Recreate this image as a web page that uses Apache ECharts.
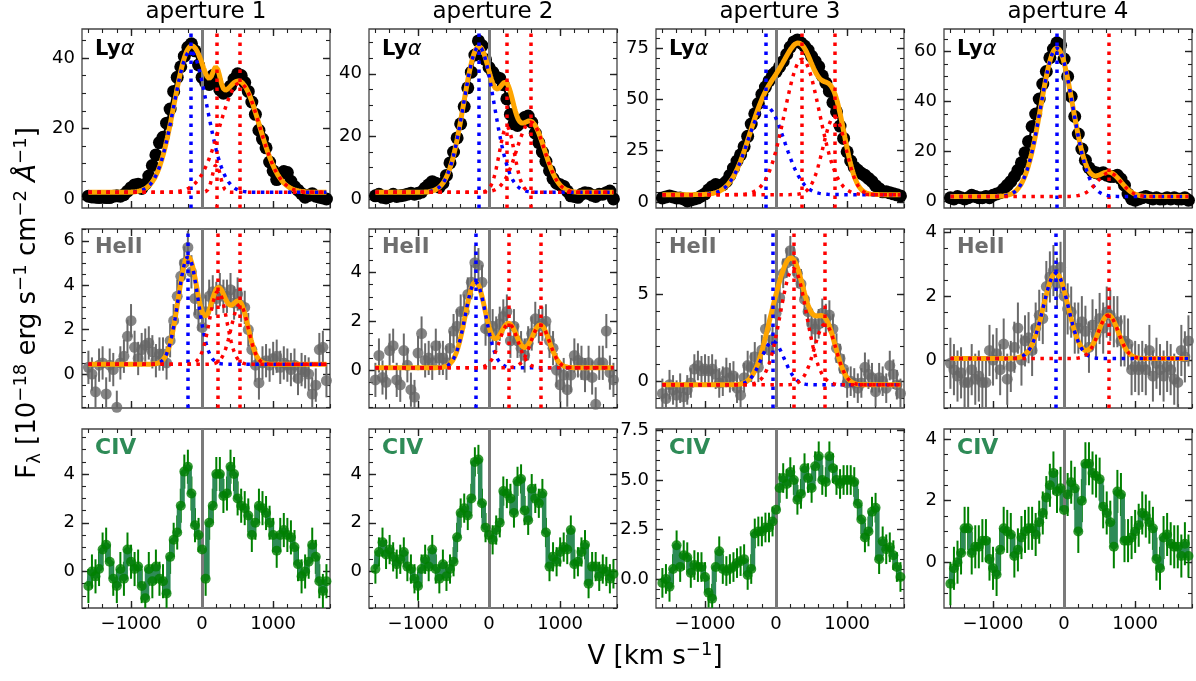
<!DOCTYPE html>
<html><head><meta charset="utf-8">
<script src="https://cdn.jsdelivr.net/npm/echarts@6/dist/echarts.min.js"></script>
<style>html,body{margin:0;padding:0;background:#fff}#c{width:1196px;height:681px}</style>
</head><body><div id="c"></div>
<script>
// ---------------- DATA ----------------
const apertures = ['aperture 1', 'aperture 2', 'aperture 3', 'aperture 4'];
const lineNames = ['Lyα', 'HeII', 'CIV'];
const xTickLabels = [-1000, 0, 1000];

const velocity = [
  -1600,-1550,-1500,-1450,-1400,-1350,-1300,-1250,-1200,-1150,
  -1100,-1050,-1000,-950,-900,-850,-800,-750,-700,-650,
  -600,-550,-500,-450,-400,-350,-300,-250,-200,-150,
  -100,-50,0,50,100,150,200,250,300,350,
  400,450,500,550,600,650,700,750,800,850,
  900,950,1000,1050,1100,1150,1200,1250,1300,1350,
  1400,1450,1500,1550,1600,1650,1700,1750];

const lyaFlux1 = [
  0.8,0.6,0.5,0.4,0.5,0.4,0.4,0.8,0.9,0.8,
  1.2,2.2,3.2,4.0,4.2,3.0,4.2,6.5,9.5,12.5,
  16.0,17.5,21.5,25.5,30.5,34.5,37.5,40.5,43.0,44.0,
  42.0,38.0,34.5,33.0,32.5,35.0,33.5,31.0,30.0,30.5,
  32.0,34.0,35.5,35.0,33.0,30.5,27.5,24.0,19.5,17.0,
  14.5,10.5,8.0,5.5,7.0,7.8,7.5,5.0,3.5,2.5,
  1.5,0.5,1.0,1.5,0.8,0.5,0.3,0.0];
const lyaFlux2 = [
  1.0,1.5,0.5,0.3,0.8,1.5,0.8,1.0,1.2,1.5,
  1.8,1.5,1.8,2.2,3.5,4.5,5.5,5.0,3.8,5.0,
  7.5,11.5,15.0,19.5,24.0,29.5,35.5,40.5,46.0,50.5,
  49.0,44.5,42.0,40.5,39.0,38.5,36.5,32.0,27.0,24.0,
  23.5,24.5,26.0,26.5,24.5,21.0,18.0,15.0,12.0,9.0,
  6.5,5.0,4.5,4.0,2.5,1.0,0.8,0.5,1.5,2.0,
  1.8,1.2,0.8,1.5,1.5,2.0,2.5,0.0];
const lyaFlux3 = [
  2.0,2.5,3.0,2.5,2.0,2.0,1.5,0.5,1.0,1.5,
  2.0,3.0,4.0,6.0,7.5,8.5,8.0,8.5,10.0,13.0,
  16.5,20.0,23.0,27.0,32.0,38.0,43.0,48.0,52.5,56.0,
  59.0,62.0,63.5,66.0,68.5,72.0,75.5,78.0,79.0,77.5,
  76.0,74.0,71.0,68.5,66.0,61.5,58.0,54.0,48.5,44.0,
  37.0,31.0,24.5,20.0,17.0,15.5,14.0,13.0,11.5,10.0,
  8.0,6.5,5.0,5.0,4.5,4.0,3.5,3.0];
const lyaFlux4 = [
  1.5,1.0,2.0,1.5,1.0,1.5,2.5,2.0,1.5,1.5,
  2.0,1.5,2.5,3.0,3.5,5.0,6.5,8.0,10.0,12.5,
  15.5,19.5,24.0,30.0,35.0,41.0,47.0,52.0,57.5,61.0,
  63.5,62.5,57.0,50.0,42.0,34.0,27.0,21.0,16.5,13.5,
  12.0,11.5,11.0,11.5,10.5,10.0,10.0,10.5,9.0,6.5,
  3.0,1.0,0.5,1.0,1.5,2.0,1.5,1.0,1.5,1.0,
  1.0,1.5,1.0,1.5,1.0,1.0,1.5,0.5];

const heiiFlux1 = [
  0.3,0.0,-0.8,0.4,0.5,-0.9,0.4,0.2,-1.5,0.5,
  0.8,1.7,2.4,1.2,0.7,1.1,1.3,1.4,1.0,0.6,
  0.9,0.9,0.5,1.5,2.4,3.5,4.4,5.0,5.7,4.6,
  3.4,2.7,2.1,2.8,3.5,3.7,3.4,3.8,3.5,3.5,
  3.8,3.2,3.6,3.1,3.0,2.0,1.1,0.4,-0.4,0.5,
  0.6,0.4,0.7,0.8,0.3,0.5,0.4,0.2,0.4,-0.2,
  0.2,0.1,0.0,-0.9,-0.5,1.1,1.2,-0.3];
const heiiFlux2 = [
  -0.4,0.6,-0.3,-0.5,0.8,1.0,-0.4,-0.6,0.8,0.2,
  -0.8,-1.1,0.7,1.5,0.4,0.5,0.3,1.0,0.5,0.5,
  0.3,0.9,1.6,1.8,2.4,2.4,3.1,3.6,4.4,4.3,
  3.6,1.7,1.6,1.8,1.5,1.9,2.2,2.4,1.2,1.8,
  1.2,0.9,0.6,1.1,1.5,2.1,1.8,1.9,2.0,1.2,
  0.9,0.0,-0.6,-0.2,-0.8,-0.2,0.6,0.4,0.3,-0.2,
  0.3,-0.3,-1.4,0.3,0.3,1.6,-0.1,-0.4];
const heiiFlux3 = [
  -0.7,-1.0,-0.2,-0.5,-0.8,-0.4,-0.9,-0.5,-0.1,0.7,
  0.9,0.6,0.7,0.6,0.7,0.4,-0.1,0.0,0.5,0.2,
  0.3,-0.4,-0.8,0.2,0.9,0.8,1.4,0.8,1.8,3.0,
  1.8,2.4,3.9,4.8,6.2,6.8,7.5,6.9,6.2,5.6,
  4.7,4.0,3.3,3.0,3.3,3.9,3.6,3.8,3.0,1.9,
  1.3,0.7,-0.1,0.0,-0.1,-0.4,-0.1,0.8,0.4,0.2,
  -0.6,0.2,0.0,-0.4,0.9,0.4,-0.2,-0.7];
const heiiFlux4 = [
  -0.1,-0.3,-0.5,-0.4,-0.7,-0.7,-0.3,-0.6,-0.5,-0.7,
  -0.7,0.3,0.0,0.2,-0.3,0.5,-0.6,-0.2,0.4,1.0,
  0.0,0.6,0.7,0.3,1.0,1.4,1.3,2.3,2.6,2.8,
  2.4,2.9,2.0,1.6,1.5,1.0,1.0,1.2,0.9,0.4,
  1.1,0.8,1.3,1.0,1.5,1.4,1.2,1.2,0.6,0.6,
  0.5,-0.3,-0.2,-0.3,-0.2,-0.3,0.3,-0.5,-0.1,-0.3,
  -0.5,-0.2,-0.3,-0.6,-0.7,0.3,0.1,0.6];

const civFlux1 = [
  -0.6,0.0,-0.2,0.1,0.9,1.1,0.4,-0.3,-0.6,0.1,
  -0.3,0.9,0.4,0.1,0.2,-0.6,-1.1,0.1,-0.4,0.2,
  -0.3,-0.4,-0.9,0.6,1.3,1.6,2.7,4.1,4.3,3.2,
  1.9,1.5,0.9,-0.3,2.0,2.7,4.0,4.0,3.1,3.2,
  4.3,4.0,3.0,2.7,2.6,2.3,1.5,2.0,2.7,2.6,
  2.4,2.0,1.5,0.85,1.5,1.7,1.5,1.4,1.0,0.3,
  -0.2,0.0,0.4,1.1,0.6,-0.4,-0.8,-0.4];
const civFlux2 = [
  0.1,0.8,1.2,0.7,0.9,0.6,0.3,0.5,0.8,0.2,
  0.1,-0.3,-0.6,0.1,0.5,0.2,0.9,0.1,-0.3,0.3,
  -0.2,0.1,0.4,1.4,2.4,2.6,2.3,3.0,4.5,4.6,
  2.8,1.8,1.5,1.3,1.7,2.0,3.3,3.2,3.0,2.4,
  3.7,3.8,2.5,2.1,3.4,3.0,2.8,3.2,1.6,0.2,
  0.6,0.4,0.8,1.0,0.9,1.7,0.3,0.4,0.8,1.1,
  -0.5,0.2,0.2,-0.2,0.1,0.0,-0.3,-0.1];
const civFlux3 = [
  -0.2,0.0,-0.4,0.5,1.7,0.6,1.2,1.1,0.3,0.7,
  0.6,0.6,0.1,-0.7,-1.0,0.6,1.4,0.5,0.4,0.5,
  0.6,0.8,0.9,1.0,0.2,0.5,2.3,2.4,2.4,2.6,
  2.6,2.9,3.5,4.6,5.1,4.8,5.4,5.0,4.0,4.3,
  5.6,5.1,4.6,5.7,6.2,5.0,4.9,6.2,5.6,5.0,
  4.8,5.0,5.0,5.0,4.9,3.8,3.0,2.1,2.4,3.4,
  3.6,1.0,1.9,1.5,1.6,1.2,0.6,0.1];
const civFlux4 = [
  -0.7,-0.2,0.0,0.3,1.1,1.1,0.3,0.5,0.5,0.7,
  0.7,0.1,-0.2,-0.4,0.4,1.1,1.0,0.9,0.2,0.4,
  0.8,1.0,1.1,1.1,0.9,1.3,1.6,2.1,2.5,2.9,
  2.3,2.4,1.7,2.2,2.6,2.4,1.0,2.0,3.2,3.2,
  2.9,2.8,2.7,1.8,1.6,1.3,0.5,2.3,2.2,0.7,
  0.7,0.8,1.0,1.2,1.6,1.5,1.3,1.1,0.1,-0.2,
  0.8,0.9,0.6,0.5,0.5,0.2,0.6,0.2];

// typical 1-sigma error bar half-length per aperture
const heiiErr = [0.75, 0.7, 0.85, 0.8];
const civErr = [0.7, 0.6, 0.75, 0.7];

// fitted Gaussian components: [peak above continuum, centre km/s, sigma km/s]
const lyaBase = [1.9, 2.1, 3.6, 2.0];
const lyaBlue = [[40, -165, 235], [46.6, -144, 215], [43, -141, 258], [59.4, -103, 225]];
const lyaRed = [
  [[8, 201, 55], [31, 529, 280]],
  [[21, 250, 105], [22.5, 584, 195]],
  [[66, 365, 245], [38, 820, 160]],
  [[9.5, 633, 170]]];
const heiiBase = [0.44, 0.1, -0.21, 0.05];
const heiiBlue = [[4.84, -197, 140], [3.52, -191, 145], [2.5, -47, 160], [2.67, -117, 175]];
const heiiRed = [
  [[3.3, 225, 120], [2.7, 529, 120]],
  [[1.8, 276, 130], [1.75, 720, 130]],
  [[6.7, 243, 185], [3.5, 689, 150]],
  [[1.36, 623, 140]]];

// ---------------- LAYOUT ----------------
const FONT = 'DejaVu Sans';
const GRID_L = [82, 369, 656, 944], GRID_T = [29, 229, 429], GW = 248, GH = 179;
const XMIN = -1690, XMAX = 1800;
const yRange = [
  [[-2.55, 48.2], [-2.9, 54.3], [-2.9, 84.3], [-2.6, 69]],
  [[-1.53, 6.53], [-1.55, 5.78], [-1.54, 8.75], [-1.5, 4.1]],
  [[-1.5, 5.85], [-1.5, 5.85], [-1.47, 7.58], [-1.49, 4.33]]];
const yMajor = [
  [[0, 20, 40], [0, 20, 40], [0, 25, 50, 75], [0, 20, 40, 60]],
  [[0, 2, 4, 6], [0, 2, 4], [0, 5], [0, 2, 4]],
  [[0, 2, 4], [0, 2, 4], [0, 2.5, 5, 7.5], [0, 2, 4]]];
const yMinorStep = [[5, 5, 5, 5], [0.5, 0.5, 1, 0.5], [0.5, 0.5, 0.5, 0.5]];

function tickRange(mn, mx, step) {
  const out = [];
  for (let v = Math.ceil(mn / step) * step; v <= mx + 1e-9; v += step) out.push(Math.round(v * 1000) / 1000);
  return out;
}
const fitV = [];
for (let v = -1600; v <= 1750; v += 10) fitV.push(v);
function gauss(p, v) { return p[0] * Math.exp(-0.5 * Math.pow((v - p[1]) / p[2], 2)); }

const MAJ = {show: true, inside: true, length: 7, lineStyle: {color: '#222', width: 1.4}};
const MIN = {show: true, inside: true, length: 4, lineStyle: {color: '#222', width: 1.1}};
const labelStyle = {fontSize: 18, color: '#000', fontFamily: FONT};
const DOT = {width: 3.5, type: [3.5, 5.5], cap: 'butt'};
const NOLINE = {show: false, onZero: false};

const grids = [], xAxes = [], yAxes = [], series = [], graphics = [];
const fluxes = [[lyaFlux1, lyaFlux2, lyaFlux3, lyaFlux4], [heiiFlux1, heiiFlux2, heiiFlux3, heiiFlux4], [civFlux1, civFlux2, civFlux3, civFlux4]];
const minusFmt = v => (v < 0 ? '\u2212' + Math.abs(v) : String(v));

function errorBars(xi, yi, flux, err, color) {
  return {
    type: 'custom', xAxisIndex: xi, yAxisIndex: yi, z: 1, clip: true, silent: true,
    data: velocity.map((v, k) => [v, flux[k] - err, flux[k] + err]),
    encode: {x: 0, y: [1, 2]},
    renderItem: (params, api) => {
      const a = api.coord([api.value(0), api.value(1)]);
      const b = api.coord([api.value(0), api.value(2)]);
      return {type: 'line', shape: {x1: a[0], y1: a[1], x2: b[0], y2: b[1]}, style: {stroke: color, lineWidth: 2}};
    }
  };
}
const zeroLine = {silent: true, symbol: ['none', 'none'], label: {show: false}, z: 3, animation: false,
  lineStyle: {color: '#7a7a7a', width: 3, type: 'solid'}, data: [{xAxis: 0}]};

function fitSeries(xi, yi, base, blue, reds) {
  const comps = [blue].concat(reds);
  series.push({type: 'line', xAxisIndex: xi, yAxisIndex: yi, z: 4, showSymbol: false, silent: true,
    data: fitV.map(v => [v, base + comps.reduce((s, p) => s + gauss(p, v), 0)]),
    lineStyle: {color: '#ffa500', width: 5}});
  comps.forEach((p, idx) => {
    const color = idx === 0 ? '#0000ff' : '#ff0000';
    series.push({type: 'line', xAxisIndex: xi, yAxisIndex: yi, z: 5, showSymbol: false, silent: true,
      data: fitV.map(v => [v, base + gauss(p, v)]),
      lineStyle: Object.assign({color}, DOT),
      markLine: {silent: true, symbol: ['none', 'none'], label: {show: false}, z: 5, animation: false,
        lineStyle: Object.assign({color}, DOT), data: [{xAxis: p[1]}]}});
  });
}

for (let r = 0; r < 3; r++) {
  for (let c = 0; c < 4; c++) {
    const gi = r * 4 + c, xi = gi * 4, yi = gi * 4;
    grids.push({left: GRID_L[c], top: GRID_T[r], width: GW, height: GH, show: true,
      borderColor: '#444', borderWidth: 1.3, backgroundColor: 'rgba(0,0,0,0)', outerBoundsMode: 'none'});
    const xb = {type: 'value', gridIndex: gi, min: XMIN, max: XMAX, splitLine: {show: false}, axisLine: NOLINE};
    const xMinor = tickRange(XMIN, XMAX, 200);
    xAxes.push(Object.assign({}, xb, {position: 'bottom',
      axisTick: Object.assign({customValues: xTickLabels}, MAJ),
      axisLabel: Object.assign({show: r === 2, customValues: xTickLabels, formatter: minusFmt, margin: 7}, labelStyle)}));
    xAxes.push(Object.assign({}, xb, {position: 'top', axisTick: Object.assign({customValues: xTickLabels}, MAJ), axisLabel: {show: false}}));
    xAxes.push(Object.assign({}, xb, {position: 'bottom', axisTick: Object.assign({customValues: xMinor}, MIN), axisLabel: {show: false}}));
    xAxes.push(Object.assign({}, xb, {position: 'top', axisTick: Object.assign({customValues: xMinor}, MIN), axisLabel: {show: false}}));

    const [mn, mx] = yRange[r][c];
    const yb = {type: 'value', gridIndex: gi, min: mn, max: mx, splitLine: {show: false}, axisLine: NOLINE};
    const majors = yMajor[r][c];
    const yMinor = tickRange(mn, mx, yMinorStep[r][c]);
    const fmt = (r === 2 && c === 2) ? (v => Number(v).toFixed(1)) : (v => String(v));
    yAxes.push(Object.assign({}, yb, {position: 'left',
      axisTick: Object.assign({customValues: majors}, MAJ),
      axisLabel: Object.assign({show: true, customValues: majors, formatter: fmt, margin: 7}, labelStyle)}));
    yAxes.push(Object.assign({}, yb, {position: 'right', axisTick: Object.assign({customValues: majors}, MAJ), axisLabel: {show: false}}));
    yAxes.push(Object.assign({}, yb, {position: 'left', axisTick: Object.assign({customValues: yMinor}, MIN), axisLabel: {show: false}}));
    yAxes.push(Object.assign({}, yb, {position: 'right', axisTick: Object.assign({customValues: yMinor}, MIN), axisLabel: {show: false}}));

    const flux = fluxes[r][c];
    const pts = velocity.map((v, k) => [v, flux[k]]);
    if (r === 0) {
      series.push({type: 'line', xAxisIndex: xi, yAxisIndex: yi, z: 2, silent: true, data: pts,
        symbol: 'circle', symbolSize: 13, showSymbol: true,
        itemStyle: {color: '#000'}, lineStyle: {color: '#000', width: 2}, markLine: zeroLine});
      fitSeries(xi, yi, lyaBase[c], lyaBlue[c], lyaRed[c]);
    } else if (r === 1) {
      series.push(errorBars(xi, yi, flux, heiiErr[c], '#6a6a6a'));
      series.push({type: 'scatter', xAxisIndex: xi, yAxisIndex: yi, z: 2, silent: true, data: pts,
        symbolSize: 11, itemStyle: {color: '#666666'}, markLine: zeroLine});
      fitSeries(xi, yi, heiiBase[c], heiiBlue[c], heiiRed[c]);
    } else {
      series.push(errorBars(xi, yi, flux, civErr[c], '#008000'));
      series.push({type: 'line', xAxisIndex: xi, yAxisIndex: yi, z: 2, silent: true, data: pts,
        step: 'middle', showSymbol: false, lineStyle: {color: '#2e8b57', width: 4.5}, markLine: zeroLine});
      series.push({type: 'scatter', xAxisIndex: xi, yAxisIndex: yi, z: 3, silent: true, data: pts,
        symbolSize: 10, itemStyle: {color: '#008000'}});
    }

    // panel line label
    const lx = GRID_L[c] + 13;
    if (r === 0) {
      graphics.push({type: 'text', x: lx, y: 50, silent: true, style: {text: '{b|Ly}{i|α}', align: 'left', verticalAlign: 'middle',
        rich: {b: {fontFamily: FONT, fontWeight: 'bold', fontSize: 21, fill: '#000'},
               i: {fontFamily: FONT, fontStyle: 'italic', fontSize: 21, fill: '#000'}}}});
    } else if (r === 1) {
      graphics.push({type: 'text', x: lx, y: 248, silent: true, style: {text: lineNames[1], fontFamily: FONT, fontWeight: 'bold',
        fontSize: 21, fill: '#6e6e6e', align: 'left', verticalAlign: 'middle'}});
    } else {
      graphics.push({type: 'text', x: lx, y: 448, silent: true, style: {text: lineNames[2], fontFamily: FONT, fontWeight: 'bold',
        fontSize: 22, fill: '#2e8b57', align: 'left', verticalAlign: 'middle'}});
    }
  }
}

apertures.forEach((t, c) => {
  graphics.push({type: 'text', x: GRID_L[c] + GW / 2, y: 12, silent: true,
    style: {text: t, fontFamily: FONT, fontSize: 23, fill: '#000', align: 'center', verticalAlign: 'middle'}});
});

const richAxis = {
  n: {fontFamily: FONT, fontSize: 26, fill: '#000', lineHeight: 32},
  s: {fontFamily: FONT, fontSize: 18, fill: '#000', lineHeight: 24, verticalAlign: 'top'},
  b: {fontFamily: FONT, fontSize: 18, fill: '#000', lineHeight: 24, verticalAlign: 'bottom'},
  i: {fontFamily: FONT, fontSize: 26, fontStyle: 'italic', fill: '#000', lineHeight: 32}
};
graphics.push({type: 'text', x: 28, y: 303, rotation: Math.PI / 2, silent: true,
  style: {text: '{n|F}{b|λ}{n| [10}{s|\u221218}{n| erg s}{s|\u22121}{n| cm}{s|\u22122}{n| }{i|Å}{s|\u22121}{n|]}',
    align: 'center', verticalAlign: 'middle', rich: richAxis}});
graphics.push({type: 'text', x: 655, y: 657, silent: true,
  style: {text: '{n|V [km s}{s|\u22121}{n|]}', align: 'center', verticalAlign: 'middle', rich: richAxis}});

const chart = echarts.init(document.getElementById('c'), null, {renderer: 'canvas', width: 1196, height: 681});
chart.setOption({
  animation: false,
  backgroundColor: '#fff',
  grid: grids, xAxis: xAxes, yAxis: yAxes, series: series, graphic: graphics
});
</script>
</body></html>
